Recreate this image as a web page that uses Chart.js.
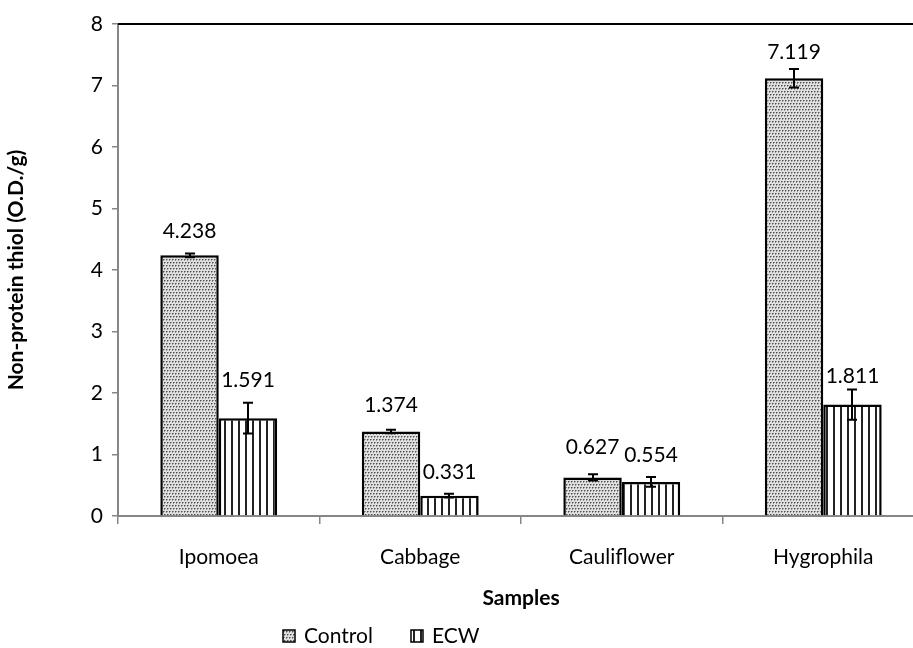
<!DOCTYPE html>
<html><head><meta charset="utf-8">
<script src="https://cdn.jsdelivr.net/npm/chart.js@4.4.1/dist/chart.umd.min.js"></script>
<style>
html,body{margin:0;padding:0;background:#fff;overflow:hidden;}
#wrap{width:913px;height:648px;overflow:hidden;position:relative;}
#box{width:924px;height:648px;position:absolute;left:0;top:0;}
</style></head><body>
<div id="wrap"><div id="box"><canvas id="c"></canvas></div></div>
<script>
const categories = ["Ipomoea", "Cabbage", "Cauliflower", "Hygrophila"];
const controlValues = [4.238, 1.374, 0.627, 7.119];
const ecwValues = [1.591, 0.331, 0.554, 1.811];
const controlErrors = [0.03, 0.03, 0.05, 0.15];
const ecwErrors = [0.25, 0.03, 0.08, 0.245];
const yTicks = [0, 1, 2, 3, 4, 5, 6, 7, 8];
const seriesNames = ["Control", "ECW"];

// label lift above the bar top (px), as placed in the original
const labelLift = [[24, 26, 30, 26], [38, 23, 27, 28]];

function makeDots(){
  const t = document.createElement('canvas'); t.width = 6; t.height = 6;
  const g = t.getContext('2d');
  g.fillStyle = '#e0e0e0'; g.fillRect(0,0,6,6);
  g.fillStyle = '#505050';
  g.fillRect(1,1,1,1); g.fillRect(4,1,1,1); g.fillRect(2,4,1,1); g.fillRect(5,4,1,1);
  g.fillStyle = '#959595';
  g.fillRect(2,1,1,1); g.fillRect(5,1,1,1); g.fillRect(3,4,1,1); g.fillRect(0,4,1,1);
  g.fillRect(1,2,1,1); g.fillRect(4,2,1,1); g.fillRect(2,5,1,1); g.fillRect(5,5,1,1);
  return g.createPattern(t, 'repeat');
}
function makeStripes(){
  const t = document.createElement('canvas'); t.width = 7; t.height = 4;
  const g = t.getContext('2d');
  g.fillStyle = '#ffffff'; g.fillRect(0,0,7,4);
  g.fillStyle = '#222222'; g.fillRect(0,0,2,4);
  return g.createPattern(t, 'repeat');
}
const dotPat = makeDots();
const stripePat = makeStripes();
const FONT = 'Lato, "Open Sans", sans-serif';
const FS = 21;

const errorPlugin = {
  id: 'errs',
  afterDatasetsDraw(chart){
    const ctx = chart.ctx;
    const y = chart.scales.y;
    const errs = [controlErrors, ecwErrors];
    ctx.save();
    ctx.strokeStyle = '#000'; ctx.lineWidth = 2;
    chart.data.datasets.forEach((ds, di) => {
      const meta = chart.getDatasetMeta(di);
      meta.data.forEach((bar, i) => {
        const v = ds.data[i], e = errs[di][i];
        const y1 = y.getPixelForValue(v + e), y2 = y.getPixelForValue(v - e);
        const x = Math.round(bar.x);
        ctx.beginPath();
        ctx.moveTo(x, y1); ctx.lineTo(x, y2);
        ctx.moveTo(x-5, y1); ctx.lineTo(x+5, y1);
        ctx.moveTo(x-5, y2); ctx.lineTo(x+5, y2);
        ctx.stroke();
      });
    });
    ctx.fillStyle = '#000';
    ctx.font = FS + 'px ' + FONT;
    ctx.textAlign = 'center'; ctx.textBaseline = 'middle';
    chart.data.datasets.forEach((ds, di) => {
      const meta = chart.getDatasetMeta(di);
      meta.data.forEach((bar, i) => {
        ctx.fillText(ds.data[i].toFixed(3), bar.x, bar.y - labelLift[di][i]);
      });
    });
    const ca = chart.chartArea;
    ctx.strokeStyle = '#000'; ctx.lineWidth = 2;
    ctx.beginPath(); ctx.moveTo(ca.left, ca.top); ctx.lineTo(ca.right, ca.top); ctx.stroke();
    const ly = 636;
    const items = [{x: 283, pat: dotPat, name: seriesNames[0]}, {x: 411, pat: stripePat, name: seriesNames[1]}];
    ctx.textAlign = 'left';
    items.forEach(it => {
      ctx.fillStyle = it.pat; ctx.fillRect(it.x, ly-6, 12, 12);
      ctx.strokeStyle = '#000'; ctx.lineWidth = 1.5; ctx.strokeRect(it.x, ly-6, 12, 12);
      ctx.fillStyle = '#000'; ctx.fillText(it.name, it.x + 21, ly);
    });
    ctx.restore();
  }
};

new Chart(document.getElementById('c'), {
  type: 'bar',
  data: {
    labels: categories,
    datasets: [
      {label: seriesNames[0], data: controlValues, backgroundColor: dotPat, borderColor: '#000', borderWidth: 2.5, categoryPercentage: 0.58, barPercentage: 1.0},
      {label: seriesNames[1], data: ecwValues, backgroundColor: stripePat, borderColor: '#000', borderWidth: 2.5, categoryPercentage: 0.58, barPercentage: 1.0}
    ]
  },
  options: {
    responsive: true, maintainAspectRatio: false, animation: false,
    layout: {padding: {top: 24, right: 0, bottom: 33, left: 0}},
    plugins: {legend: {display: false}, tooltip: {enabled: false}},
    scales: {
      x: {
        grid: {display: true, drawOnChartArea: false, drawTicks: true, tickLength: 8, color: '#868686', offset: true, lineWidth: 1.5},
        border: {display: true, color: '#868686', width: 2},
        ticks: {color: '#000', font: {family: FONT, size: FS}, padding: 21},
        title: {display: true, text: 'Samples', color: '#000', font: {family: FONT, size: FS, weight: 'bold'}, padding: {top: 17}},
        afterFit(s){ s.height = 648 - 33 - 516; }
      },
      y: {
        min: 0, max: 8,
        afterBuildTicks(s){ s.ticks = yTicks.map(v => ({value: v})); },
        grid: {display: true, drawOnChartArea: false, drawTicks: true, tickLength: 6, color: '#868686', lineWidth: 1.5},
        border: {display: true, color: '#868686', width: 2},
        ticks: {color: '#000', font: {family: FONT, size: FS}, padding: 9},
        title: {display: true, text: 'Non-protein thiol (O.D./g)', color: '#000', font: {family: FONT, size: FS, weight: 'bold'}, padding: {top: 4, bottom: 0}},
        afterFit(s){ s.width = 118; }
      }
    }
  },
  plugins: [errorPlugin]
});
</script>
</body></html>
